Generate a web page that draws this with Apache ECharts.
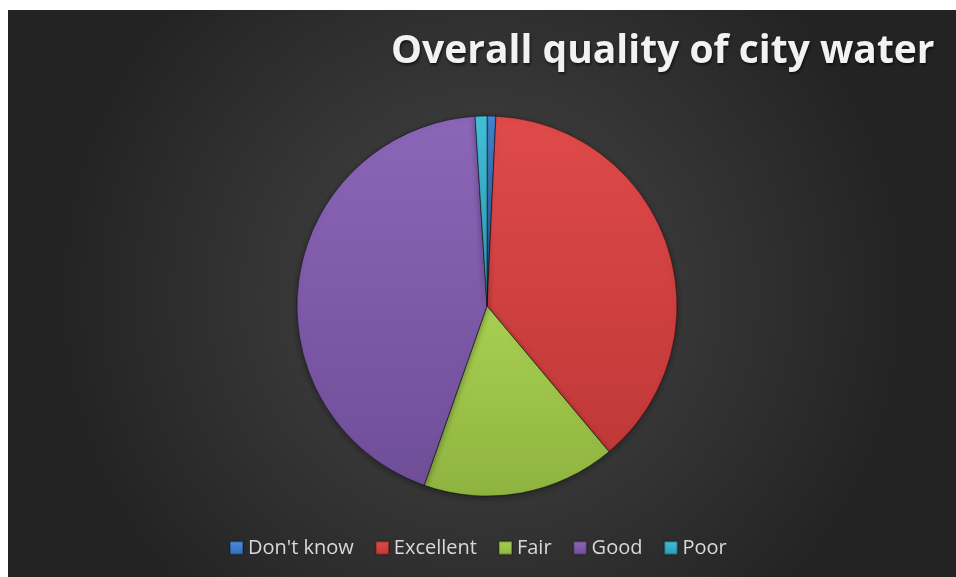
<!DOCTYPE html>
<html>
<head>
<meta charset="utf-8">
<script src="https://cdn.jsdelivr.net/npm/echarts@6/dist/echarts.min.js"></script>
<style>
html,body{margin:0;padding:0;background:#ffffff;width:956px;height:577px;overflow:hidden;}
#chart{position:absolute;left:8px;top:10px;width:948px;height:567px;}
</style>
</head>
<body>
<div id="chart"></div>
<script>
const titleText = 'Overall quality of city water';
const categories = ["Don't know", 'Excellent', 'Fair', 'Good', 'Poor'];
const values = [3, 153, 66, 175, 4];
const colorsLight = ['#4a8fe0', '#e04a4a', '#a8d052', '#8c66b8', '#44c0da'];
const colorsDark = ['#2f6bb5', '#c03838', '#8fb340', '#6f4e98', '#2c98b0'];

const chart = echarts.init(document.getElementById('chart'));

function grad(i) {
  return new echarts.graphic.LinearGradient(0, 0, 0, 1, [
    { offset: 0, color: colorsLight[i] },
    { offset: 1, color: colorsDark[i] }
  ]);
}

const data = categories.map((c, i) => ({
  name: c,
  value: values[i],
  itemStyle: { color: grad(i) }
}));

chart.setOption({
  backgroundColor: new echarts.graphic.RadialGradient(0.5, 0.5, 0.75, [
    { offset: 0, color: '#474747' },
    { offset: 1, color: '#232323' }
  ]),
  title: {
    text: titleText,
    left: 378,
    top: 17,
    textStyle: {
      color: '#f2f2f2',
      fontFamily: 'Open Sans',
      fontWeight: 'bold',
      fontSize: 39,
      textShadowColor: 'rgba(0,0,0,0.6)',
      textShadowBlur: 3,
      textShadowOffsetX: 1,
      textShadowOffsetY: 2
    }
  },
  legend: {
    bottom: 14,
    left: 216,
    icon: 'rect',
    itemWidth: 13,
    itemHeight: 13,
    itemGap: 21,
    textStyle: { color: '#d9d9d9', fontSize: 20, fontFamily: 'Open Sans' },
    data: categories.map((c, i) => ({ name: c, itemStyle: { color: grad(i) } }))
  },
  series: [{
    type: 'pie',
    center: [479, 296],
    radius: 190,
    startAngle: 90,
    clockwise: true,
    label: { show: false },
    labelLine: { show: false },
    emphasis: { disabled: true },
    itemStyle: {
      borderColor: 'rgba(0,0,0,0.25)',
      borderWidth: 1,
      shadowColor: 'rgba(0,0,0,0.35)',
      shadowBlur: 6,
      shadowOffsetY: 2
    },
    data: data
  }]
});
</script>
</body>
</html>
